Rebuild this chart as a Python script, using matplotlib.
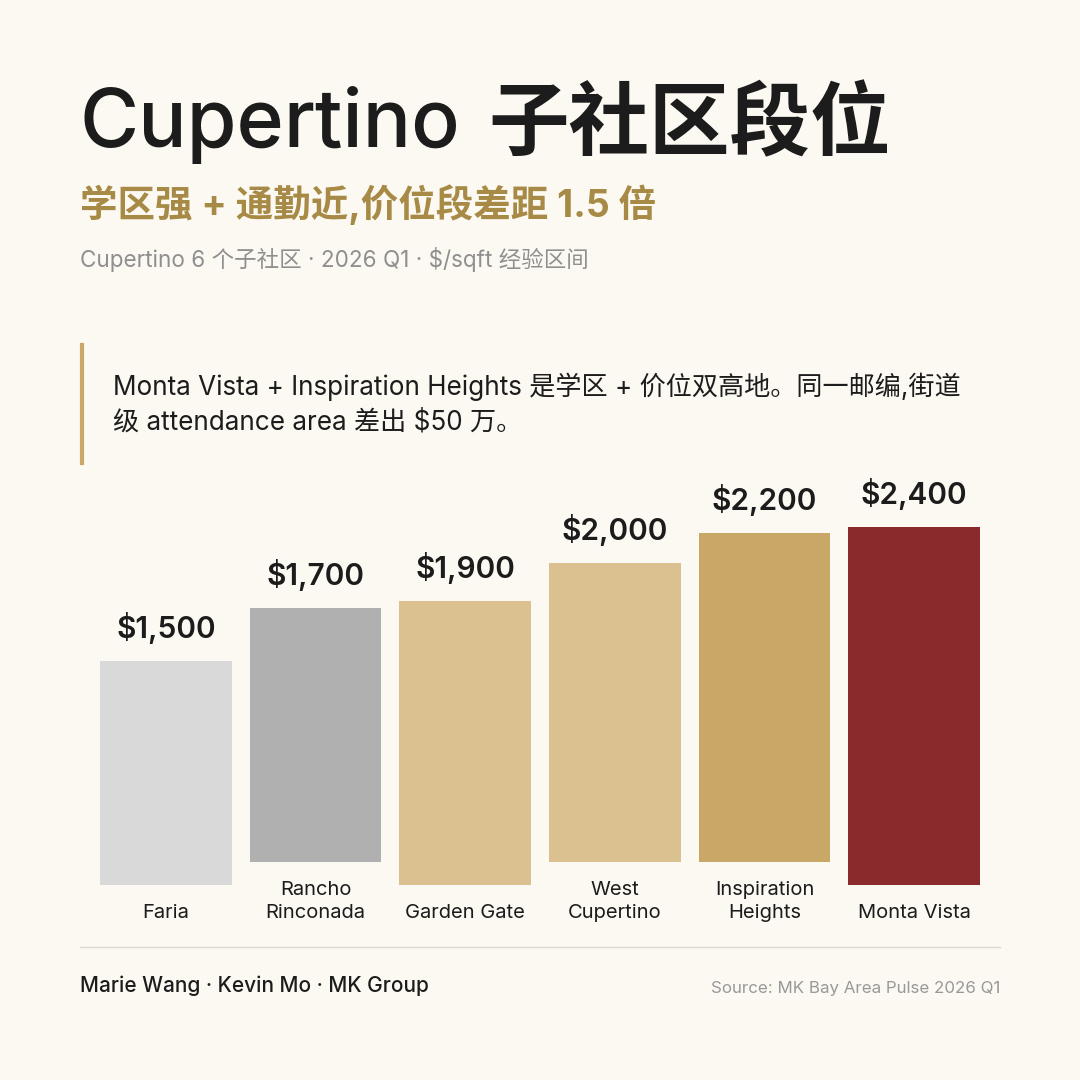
import matplotlib
matplotlib.use('Agg')
import matplotlib.pyplot as plt
from matplotlib.lines import Line2D

# 数据
names = ['Faria', 'Rancho\nRinconada', 'Garden Gate', 'West\nCupertino', 'Inspiration\nHeights', 'Monta Vista']
prices = [1500, 1700, 1900, 2000, 2200, 2400]
colors = ['#D9D9D9', '#B0B0B0', '#DBC190', '#DBC190', '#C9A766', '#8A2A2C']

title_en = 'Cupertino'
title_cn = '子社区段位'
subtitle = '学区强 + 通勤近,价位段差距 1.5 倍'
caption = 'Cupertino 6 个子社区 · 2026 Q1 · $/sqft 经验区间'
note = 'Monta Vista + Inspiration Heights 是学区 + 价位双高地。同一邮编,街道\n级 attendance area 差出 $50 万。'
authors = 'Marie Wang · Kevin Mo · MK Group'
source = 'Source: MK Bay Area Pulse 2026 Q1'

plt.rcParams['font.family'] = ['Inter', 'Noto Sans CJK SC', 'DejaVu Sans']
BG = '#FCF9F2'
W = H = 1080

fig = plt.figure(figsize=(10.8, 10.8), dpi=100, facecolor=BG)

def fx(px):
    return px / W

def fy(py):
    return 1 - py / H

# 标题: 英文 medium, 中文 bold
t1 = fig.text(fx(80), fy(125), title_en, fontsize=58, fontweight='medium', color='#1C1C1C', va='center', ha='left')
fig.canvas.draw()
bb = t1.get_window_extent()
fig.text(fx(bb.x1 + 28), fy(128), title_cn, fontsize=58, fontweight='bold', color='#1C1C1C', va='center', ha='left')

fig.text(fx(80), fy(205), subtitle, fontsize=27, fontweight='bold', color='#A68A45', va='center', ha='left')
fig.text(fx(80), fy(260), caption, fontsize=16.2, color='#8F8F8F', va='center', ha='left')

# 引用框
fig.add_artist(Line2D([fx(81.5), fx(81.5)], [fy(345), fy(463)], color='#C9A766', lw=3, transform=fig.transFigure))
fig.text(fx(113), fy(404), note, fontsize=18.8, color='#1C1C1C', va='center', ha='left', linespacing=1.45)

# 柱状图, 底部 885px, 顶部 470px
ax_bottom, ax_top = 885, 470
ax = fig.add_axes([fx(100), fy(ax_bottom), fx(980) - fx(100), (ax_bottom - ax_top) / H])
ax.set_facecolor('none')
ymax = 2780
ax.set_xlim(-0.44, 5.44)
ax.set_ylim(0, ymax)
px_per_unit = (ax_bottom - ax_top) / ymax
line_px = 23.5
bottoms = [(n.count('\n')) * line_px / px_per_unit for n in names]
x = list(range(len(names)))
ax.bar(x, prices, width=0.88, bottom=bottoms, color=colors)
for i in x:
    ax.text(i, bottoms[i] + prices[i] + 17 / px_per_unit, '${:,}'.format(prices[i]), ha='center', va='bottom',
            fontsize=21.5, fontweight='semibold', color='#1C1C1C')
    ax.text(i, -33 / px_per_unit, names[i], ha='center', va='baseline',
            fontsize=14.5, color='#1C1C1C', linespacing=1.38)
ax.axis('off')

fig.add_artist(Line2D([fx(80), fx(1000)], [fy(947), fy(947)], color='#DDDAD3', lw=1, transform=fig.transFigure))
fig.text(fx(80), fy(986), authors, fontsize=15, fontweight='medium', color='#1C1C1C', va='center', ha='left')
fig.text(fx(1000), fy(989), source, fontsize=12.2, color='#999999', va='center', ha='right')

fig.savefig('out.png', dpi=100, facecolor=BG)
